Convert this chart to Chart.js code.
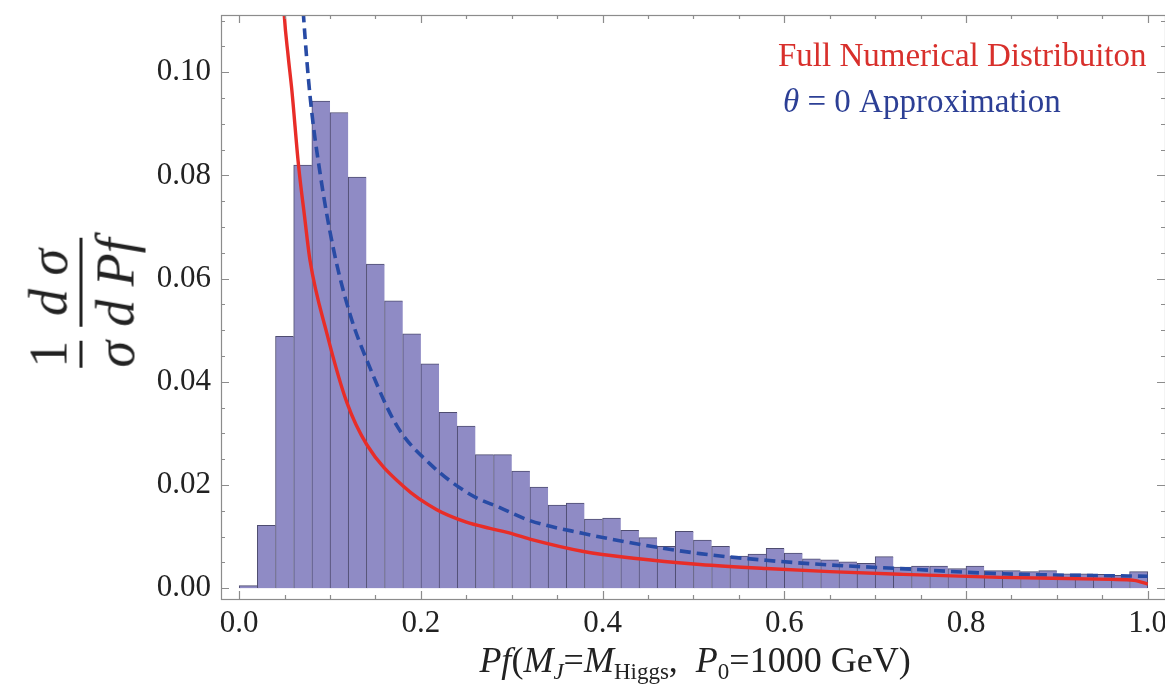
<!DOCTYPE html>
<html>
<head>
<meta charset="utf-8">
<script src="https://cdn.jsdelivr.net/npm/chart.js@4"></script>
<style>
    body { margin: 0; background: #fff; }
    #wrap { position: relative; width: 1165px; height: 685px; overflow: hidden; font-family: "Liberation Serif", serif; }
    #chart { position: absolute; left: 0; top: 0; }
    .txt { position: absolute; white-space: nowrap; line-height: 1; }
    #ytitle { left: 82px; top: 303px; transform: translate(-50%, -50%) rotate(-90deg); font-size: 54px; color: #222; display: flex; align-items: center; }
    .frac { display: inline-flex; flex-direction: column; align-items: center; margin: 0 7px; }
    .frac .den { border-top: 3px solid #222; padding-top: 6px; align-self: stretch; text-align: center; }
    .frac .num { padding-bottom: 4px; }
    #xtitle { left: 695px; top: 642px; transform: translateX(-50%); font-size: 36px; color: #222; }
    #xtitle sub { font-size: 23px; vertical-align: -7px; line-height: 0; }
    #leg1 { left: 778px; top: 39px; font-size: 33px; color: #d8302c; }
    #leg2 { left: 783px; top: 85px; font-size: 33px; color: #2c3f95; }
</style>
</head>
<body>
<div id="wrap">
    <canvas id="chart" width="1165" height="685"></canvas>
    <div class="txt" id="ytitle">
        <span class="frac"><span class="num">1</span><span class="den"><i>σ</i></span></span>
        <span class="frac"><span class="num"><i>d σ</i></span><span class="den"><i>d Pf</i></span></span>
    </div>
    <div class="txt" id="xtitle"><i>Pf</i>(<i>M<sub>J</sub></i>=<i>M</i><sub>Higgs</sub>,&nbsp; <i>P</i><sub>0</sub>=1000 GeV)</div>
    <div class="txt" id="leg1">Full Numerical Distribuiton</div>
    <div class="txt" id="leg2"><i>θ</i> = 0 Approximation</div>
</div>
<script>
// histogram, 50 bins of width 0.02 from 0 to 1
const binWidth = 0.02;
const histValues = [
    0.0005, 0.0122, 0.0488, 0.0820, 0.0944, 0.0922, 0.0797, 0.0628, 0.0557, 0.0493,
    0.0435, 0.0341, 0.0314, 0.0259, 0.0259, 0.0227, 0.0196, 0.0161, 0.0165, 0.0134,
    0.0136, 0.0112, 0.0098, 0.0081, 0.0110, 0.0093, 0.0081, 0.0062, 0.0066, 0.0077,
    0.0068, 0.0057, 0.0055, 0.0051, 0.0048, 0.0061, 0.0041, 0.0043, 0.0043, 0.0038,
    0.0043, 0.0034, 0.0034, 0.0032, 0.0034, 0.0028, 0.0028, 0.0027, 0.0025, 0.0032
];

// full numerical distribution (red)
const fullX = [0.045, 0.0495, 0.054, 0.058, 0.0653, 0.072, 0.078, 0.0965, 0.1185, 0.1405,
    0.181, 0.2175, 0.250, 0.276, 0.295, 0.320, 0.379, 0.434, 0.507, 0.580,
    0.650, 0.727, 0.837, 0.960, 0.985, 1.0];
const fullY = [0.128, 0.1114, 0.103, 0.0965, 0.0820, 0.0720, 0.0635, 0.0494, 0.0360, 0.0278,
    0.0197, 0.0152, 0.0128, 0.0116, 0.0108, 0.0095, 0.0071, 0.0058, 0.0046, 0.0038,
    0.0032, 0.0027, 0.0021, 0.0017, 0.0015, 0.0008];

// theta = 0 approximation (blue dashed)
const approxX = [0.066, 0.0708, 0.078, 0.089, 0.1038, 0.122, 0.144, 0.1735, 0.210, 0.254,
    0.287, 0.320, 0.379, 0.434, 0.507, 0.580, 0.650, 0.727, 0.837, 1.0];
const approxY = [0.125, 0.1110, 0.0954, 0.0805, 0.0657, 0.0531, 0.0427, 0.0315, 0.0241, 0.0182,
    0.0156, 0.0131, 0.0106, 0.0087, 0.0067, 0.0054, 0.0045, 0.0038, 0.0028, 0.0023];

const xTicks = [0, 0.2, 0.4, 0.6, 0.8, 1.0];
const yTicks = [0, 0.02, 0.04, 0.06, 0.08, 0.10];

const tickFont = { family: "Liberation Serif", size: 31 };

const framePlugin = {
    id: "frame",
    afterDraw(chart) {
        const ctx = chart.ctx;
        const a = chart.chartArea;
        const xs = chart.scales.x;
        const ys = chart.scales.y;
        ctx.save();
        ctx.strokeStyle = "#8c8c8c";
        ctx.lineWidth = 1.2;
        ctx.strokeRect(a.left + 0.5, a.top + 0.5, a.right - a.left, a.bottom - a.top);

        const mark = (px, len, vertical) => {
            ctx.beginPath();
            if (vertical) {
                ctx.moveTo(px, a.bottom); ctx.lineTo(px, a.bottom - len);
                ctx.moveTo(px, a.top); ctx.lineTo(px, a.top + len);
            } else {
                ctx.moveTo(a.left, px); ctx.lineTo(a.left + len, px);
                ctx.moveTo(a.right, px); ctx.lineTo(a.right - len, px);
            }
            ctx.stroke();
        };
        for (let k = 0; k <= 20; k++) {
            const v = k * 0.05;
            mark(Math.round(xs.getPixelForValue(v)) + 0.5, k % 4 === 0 ? 8 : 4, true);
        }
        for (let k = 0; k <= 22; k++) {
            const v = k * 0.005;
            mark(Math.round(ys.getPixelForValue(v)) + 0.5, k % 4 === 0 ? 8 : 4, false);
        }
        ctx.restore();
    }
};

new Chart(document.getElementById("chart"), {
    type: "bar",
    data: {
        datasets: [{
            type: "line",
            data: fullX.map((x, i) => ({ x: x, y: fullY[i] })),
            borderColor: "rgb(232, 45, 40)",
            borderWidth: 3.4,
            pointRadius: 0,
            cubicInterpolationMode: "monotone",
            clip: 0
        }, {
            type: "line",
            data: approxX.map((x, i) => ({ x: x, y: approxY[i] })),
            borderColor: "rgb(40, 75, 165)",
            borderWidth: 3.6,
            borderDash: [11, 6],
            pointRadius: 0,
            cubicInterpolationMode: "monotone",
            clip: 0
        }, {
            type: "bar",
            data: histValues.map((v, i) => ({ x: (i + 0.5) * binWidth, y: v })),
            backgroundColor: "rgb(143, 139, 197)",
            borderColor: "rgb(78, 76, 112)",
            borderWidth: ctx => ({ top: 1, left: 1, bottom: 0, right: ctx.dataIndex === histValues.length - 1 ? 1 : 0 }),
            borderSkipped: false,
            barPercentage: 1,
            categoryPercentage: 1
        }]
    },
    options: {
        responsive: false,
        animation: false,
        layout: { padding: { top: 15, right: 0, left: 0, bottom: 0 } },
        plugins: { legend: { display: false }, tooltip: { enabled: false } },
        scales: {
            x: {
                type: "linear",
                min: -0.02,
                max: 1.019,
                offset: false,
                afterBuildTicks: s => { s.ticks = xTicks.map(v => ({ value: v })); },
                afterFit: s => { s.height = 86; s.paddingLeft = 0; s.paddingRight = 0; },
                ticks: {
                    callback: v => v.toFixed(1),
                    font: tickFont,
                    color: "#222",
                    padding: 6,
                    maxRotation: 0,
                    autoSkip: false
                },
                grid: { display: false, drawTicks: false },
                border: { display: false }
            },
            y: {
                min: -0.0021,
                max: 0.1111,
                afterBuildTicks: s => { s.ticks = yTicks.map(v => ({ value: v })); },
                afterFit: s => { s.width = 221; s.paddingTop = 0; s.paddingBottom = 0; },
                ticks: {
                    callback: v => v.toFixed(2),
                    font: tickFont,
                    color: "#222",
                    padding: 10
                },
                grid: { display: false, drawTicks: false },
                border: { display: false }
            }
        }
    },
    plugins: [framePlugin]
});
</script>
</body>
</html>
